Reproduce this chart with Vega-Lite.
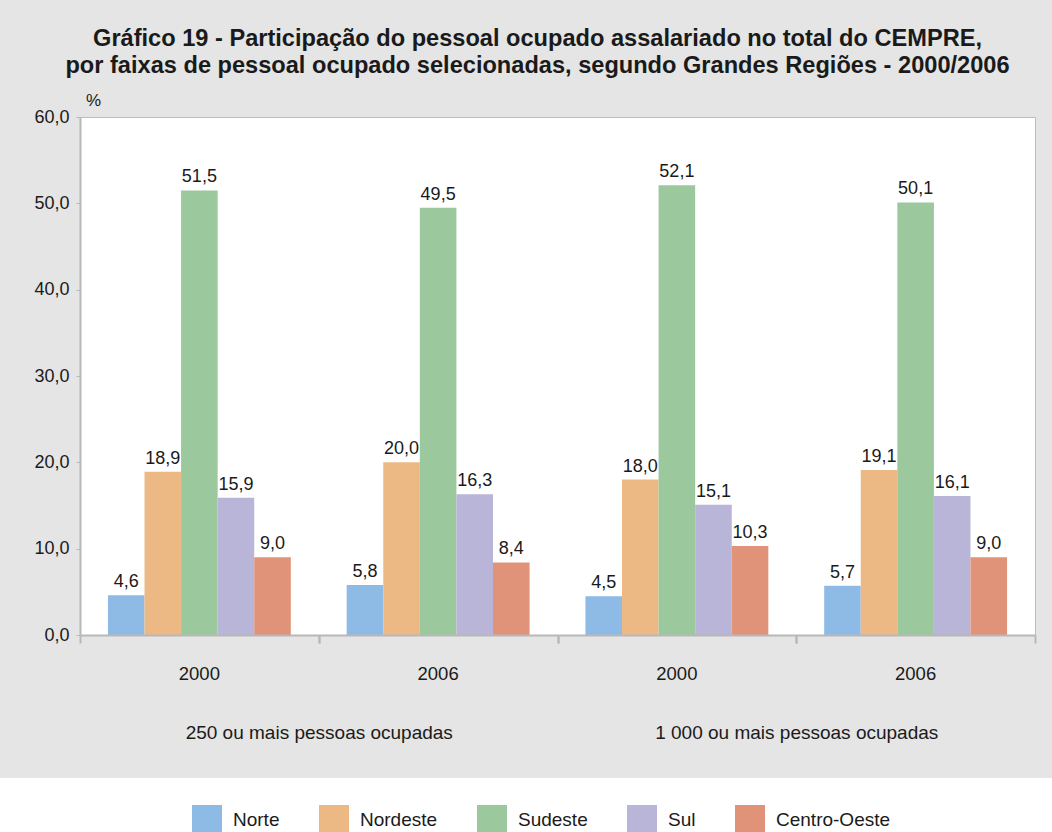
{
  "$schema": "https://vega.github.io/schema/vega-lite/v6.json",
  "width": 955,
  "height": 518,
  "autosize": {"type": "none"},
  "padding": {"left": 80, "top": 117, "right": 17, "bottom": 197},
  "background": "#ffffff",
  "config": {
    "view": {"fill": "#ffffff", "stroke": "#e4e5e4", "strokeWidth": 286, "strokeJoin": "miter"},
    "locale": {"number": {"decimal": ",", "thousands": ".", "grouping": [3], "currency": ["R$ ", ""]}},
    "font": "Liberation Sans",
    "axis": {"labelFont": "Liberation Sans", "titleFont": "Liberation Sans", "labelColor": "#1a1a1a", "titleColor": "#1a1a1a", "grid": false}
  },
  "title": {
    "text": ["Gráfico 19 - Participação do pessoal ocupado assalariado no total do CEMPRE,", "por faixas de pessoal ocupado selecionadas, segundo Grandes Regiões - 2000/2006"],
    "font": "Liberation Sans",
    "fontSize": 23.6,
    "fontWeight": "bold",
    "lineHeight": 27,
    "color": "#1a1a1a",
    "anchor": "middle",
    "frame": "group",
    "offset": 13,
    "dx": -20
  },
  "data": {
    "values": [
      {"faixa": "250 ou mais pessoas ocupadas", "ano": "2000", "coluna": "A2000", "regiao": "Norte", "valor": 4.6},
      {"faixa": "250 ou mais pessoas ocupadas", "ano": "2000", "coluna": "A2000", "regiao": "Nordeste", "valor": 18.9},
      {"faixa": "250 ou mais pessoas ocupadas", "ano": "2000", "coluna": "A2000", "regiao": "Sudeste", "valor": 51.5},
      {"faixa": "250 ou mais pessoas ocupadas", "ano": "2000", "coluna": "A2000", "regiao": "Sul", "valor": 15.9},
      {"faixa": "250 ou mais pessoas ocupadas", "ano": "2000", "coluna": "A2000", "regiao": "Centro-Oeste", "valor": 9.0},
      {"faixa": "250 ou mais pessoas ocupadas", "ano": "2006", "coluna": "A2006", "regiao": "Norte", "valor": 5.8},
      {"faixa": "250 ou mais pessoas ocupadas", "ano": "2006", "coluna": "A2006", "regiao": "Nordeste", "valor": 20.0},
      {"faixa": "250 ou mais pessoas ocupadas", "ano": "2006", "coluna": "A2006", "regiao": "Sudeste", "valor": 49.5},
      {"faixa": "250 ou mais pessoas ocupadas", "ano": "2006", "coluna": "A2006", "regiao": "Sul", "valor": 16.3},
      {"faixa": "250 ou mais pessoas ocupadas", "ano": "2006", "coluna": "A2006", "regiao": "Centro-Oeste", "valor": 8.4},
      {"faixa": "1 000 ou mais pessoas ocupadas", "ano": "2000", "coluna": "B2000", "regiao": "Norte", "valor": 4.5},
      {"faixa": "1 000 ou mais pessoas ocupadas", "ano": "2000", "coluna": "B2000", "regiao": "Nordeste", "valor": 18.0},
      {"faixa": "1 000 ou mais pessoas ocupadas", "ano": "2000", "coluna": "B2000", "regiao": "Sudeste", "valor": 52.1},
      {"faixa": "1 000 ou mais pessoas ocupadas", "ano": "2000", "coluna": "B2000", "regiao": "Sul", "valor": 15.1},
      {"faixa": "1 000 ou mais pessoas ocupadas", "ano": "2000", "coluna": "B2000", "regiao": "Centro-Oeste", "valor": 10.3},
      {"faixa": "1 000 ou mais pessoas ocupadas", "ano": "2006", "coluna": "B2006", "regiao": "Norte", "valor": 5.7},
      {"faixa": "1 000 ou mais pessoas ocupadas", "ano": "2006", "coluna": "B2006", "regiao": "Nordeste", "valor": 19.1},
      {"faixa": "1 000 ou mais pessoas ocupadas", "ano": "2006", "coluna": "B2006", "regiao": "Sudeste", "valor": 50.1},
      {"faixa": "1 000 ou mais pessoas ocupadas", "ano": "2006", "coluna": "B2006", "regiao": "Sul", "valor": 16.1},
      {"faixa": "1 000 ou mais pessoas ocupadas", "ano": "2006", "coluna": "B2006", "regiao": "Centro-Oeste", "valor": 9.0}
    ]
  },
  "encoding": {
    "xOffset": {"field": "regiao", "type": "nominal", "sort": ["Norte", "Nordeste", "Sudeste", "Sul", "Centro-Oeste"]}
  },
  "layer": [
    {
      "mark": {"type": "bar"},
      "encoding": {
        "x": {
          "field": "coluna",
          "type": "nominal",
          "sort": ["A2000", "A2006", "B2000", "B2006"],
          "scale": {"paddingInner": 0.234, "paddingOuter": 0.117},
          "axis": {
            "orient": "bottom",
            "zindex": 1,
            "title": null,
            "labelExpr": "slice(datum.value, 1)",
            "labelAngle": 0,
            "labelFontSize": 18.5,
            "labelPadding": 29,
            "ticks": false,
            "domainColor": "#b8b8b8",
            "domainWidth": 2
          }
        },
        "y": {
          "field": "valor",
          "type": "quantitative",
          "stack": null,
          "scale": {"domain": [0, 60], "nice": false},
          "axis": {
            "orient": "left",
            "zindex": 1,
            "title": "%",
            "values": [0, 10, 20, 30, 40, 50, 60],
            "format": ".1f",
            "titleAngle": 0,
            "titleX": 13,
            "titleY": -17,
            "titleAlign": "center",
            "titleBaseline": "middle",
            "titleFontSize": 17,
            "titleFontWeight": "normal",
            "labelFontSize": 18,
            "labelPadding": 7,
            "tickSize": 4,
            "tickWidth": 1,
            "tickColor": "#b8b8b8",
            "domainColor": "#b8b8b8",
            "domainWidth": 2
          }
        },
        "color": {
          "field": "regiao",
          "type": "nominal",
          "sort": ["Norte", "Nordeste", "Sudeste", "Sul", "Centro-Oeste"],
          "scale": {"domain": ["Norte", "Nordeste", "Sudeste", "Sul", "Centro-Oeste"], "range": ["#8ebbe6", "#ecb985", "#9bc89d", "#b9b5d9", "#e09378"]},
          "legend": {
            "orient": "none",
            "legendX": 112,
            "legendY": 688,
            "direction": "horizontal",
            "columns": 5,
            "title": null,
            "padding": 0,
            "symbolType": "square",
            "symbolSize": 900,
            "symbolStrokeWidth": 0,
            "symbolOpacity": 1,
            "labelFontSize": 19,
            "labelOffset": 11,
            "labelColor": "#1a1a1a",
            "labelLimit": 300,
            "columnPadding": 39
          }
        }
      }
    },
    {
      "mark": {"type": "text", "baseline": "alphabetic", "dy": -8, "fontSize": 18, "color": "#1a1a1a", "font": "Liberation Sans"},
      "encoding": {
        "x": {
          "field": "coluna",
          "type": "nominal",
          "sort": ["A2000", "A2006", "B2000", "B2006"],
          "axis": {
            "orient": "bottom",
            "zindex": 1,
            "title": null,
            "domain": false,
            "ticks": true,
            "tickSize": 8,
            "tickWidth": 2,
            "tickColor": "#b8b8b8",
            "tickOffset": -119.375,
            "labelAngle": 0,
            "labelFontSize": 19,
            "labelPadding": 80,
            "labelOverlap": false,
            "labelBound": false,
            "labelLimit": 0,
            "labelExpr": "datum.value == 'A2006' ? '250 ou mais pessoas ocupadas' : datum.value == 'B2006' ? '1 000 ou mais pessoas ocupadas' : ''"
          }
        },
        "y": {
          "field": "valor",
          "type": "quantitative",
          "axis": {
            "orient": "right",
            "zindex": 0,
            "title": null,
            "values": [30],
            "labels": false,
            "ticks": false,
            "domain": true,
            "domainColor": "#bdbdbd",
            "domainWidth": 1,
            "grid": true,
            "gridColor": "#ffffff",
            "gridOpacity": 1,
            "gridWidth": 518
          }
        },
        "text": {"field": "valor", "type": "quantitative", "format": ".1f"}
      }
    },
    {
      "mark": {"type": "text", "opacity": 0},
      "encoding": {
        "x": {
          "field": "coluna",
          "type": "nominal",
          "sort": ["A2000", "A2006", "B2000", "B2006"],
          "axis": {
            "orient": "top",
            "zindex": 1,
            "title": null,
            "labels": false,
            "ticks": false,
            "domain": true,
            "domainColor": "#bdbdbd",
            "domainWidth": 1
          }
        },
        "y": {"field": "valor", "type": "quantitative", "axis": null},
        "text": {"field": "valor", "type": "quantitative", "format": ".1f"}
      }
    },
    {
      "mark": {"type": "text", "opacity": 0},
      "encoding": {
        "x": {
          "field": "coluna",
          "type": "nominal",
          "sort": ["A2000", "A2006", "B2000", "B2006"],
          "axis": {
            "orient": "bottom",
            "zindex": 1,
            "title": null,
            "labels": false,
            "domain": false,
            "ticks": true,
            "tickSize": 8,
            "tickWidth": 2,
            "tickColor": "#b8b8b8",
            "tickOffset": 119.375
          }
        },
        "y": {"field": "valor", "type": "quantitative", "axis": null},
        "text": {"field": "valor", "type": "quantitative", "format": ".1f"}
      }
    }
  ],
  "resolve": {"axis": {"x": "independent", "y": "independent"}}
}
